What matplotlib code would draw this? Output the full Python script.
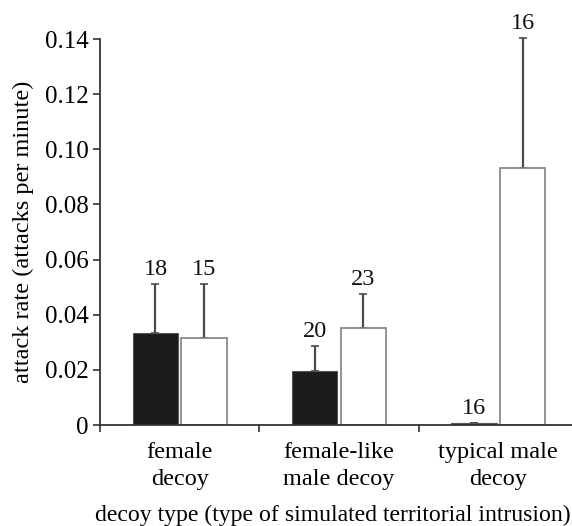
import numpy as np
import matplotlib.pyplot as plt

plt.rcParams['font.family'] = ['Liberation Serif', 'DejaVu Serif']

categories = ['female\ndecoy', 'female-like\nmale decoy', 'typical male\ndecoy']
black_means = [0.0334, 0.0196, 0.0007]
black_err = [0.0176, 0.0091, 0.0]
white_means = [0.0316, 0.0352, 0.0932]
white_err = [0.0194, 0.0123, 0.0472]
n_black = [18, 20, 16]
n_white = [15, 23, 16]

fs = 17.5
axcol = '#333333'

fig = plt.figure(figsize=(5.72, 5.26), dpi=100)
ax = fig.add_axes([100 / 572, 101 / 526, 478 / 572, 386 / 526])

x = np.arange(len(categories))
w = 0.285
off = 0.152

ax.bar(x - off, black_means, w, color='#1c1a1a', edgecolor='#555555', linewidth=0.8, zorder=2)
ax.bar(x + off, white_means, w, color='white', edgecolor='#808080', linewidth=1.2, zorder=2)

# upper error bars only
ax.errorbar(x - off, black_means, yerr=[np.zeros(3), black_err], fmt='none',
            ecolor='#4a4a4a', elinewidth=1.6, capsize=3, capthick=1.2, zorder=1)
ax.errorbar(x + off, white_means, yerr=[np.zeros(3), white_err], fmt='none',
            ecolor='#4a4a4a', elinewidth=1.6, capsize=3, capthick=1.2, zorder=1,
            clip_on=False)

for i in range(len(categories)):
    ax.annotate(str(n_black[i]), (x[i] - off, black_means[i] + black_err[i]),
                xytext=(0, 3), textcoords='offset points', ha='center', va='bottom',
                fontsize=fs, color='#111111', annotation_clip=False)
    ax.annotate(str(n_white[i]), (x[i] + off, white_means[i] + white_err[i]),
                xytext=(0, 3), textcoords='offset points', ha='center', va='bottom',
                fontsize=fs, color='#111111', annotation_clip=False)

ax.set_xlim(-0.5, 2.5)
ax.set_ylim(0, 0.14)
ax.set_yticks(np.arange(0, 0.141, 0.02))
ax.set_yticklabels(['0', '0.02', '0.04', '0.06', '0.08', '0.10', '0.12', '0.14'])

ax.set_xticks([-0.5, 0.5, 1.5])
ax.set_xticklabels([])
ax.set_xticks(x, minor=True)
ax.set_xticklabels(categories, minor=True, linespacing=1.4)
ax.tick_params(axis='x', which='minor', length=0, pad=12, labelsize=fs)
ax.tick_params(axis='x', which='major', length=5, width=1.2, color=axcol)
ax.tick_params(axis='y', length=5, width=1.2, color=axcol, labelsize=fs + 0.5, pad=3)

for s in ['top', 'right']:
    ax.spines[s].set_visible(False)
for s in ['left', 'bottom']:
    ax.spines[s].set_color(axcol)
    ax.spines[s].set_linewidth(1.3)

ax.set_ylabel('attack rate (attacks per minute)', fontsize=fs, labelpad=8)
ax.set_xlabel('decoy type (type of simulated territorial intrusion)', fontsize=17.1)
ax.xaxis.set_label_coords(0.488, -0.207)

fig.savefig('out.png', dpi=100)
